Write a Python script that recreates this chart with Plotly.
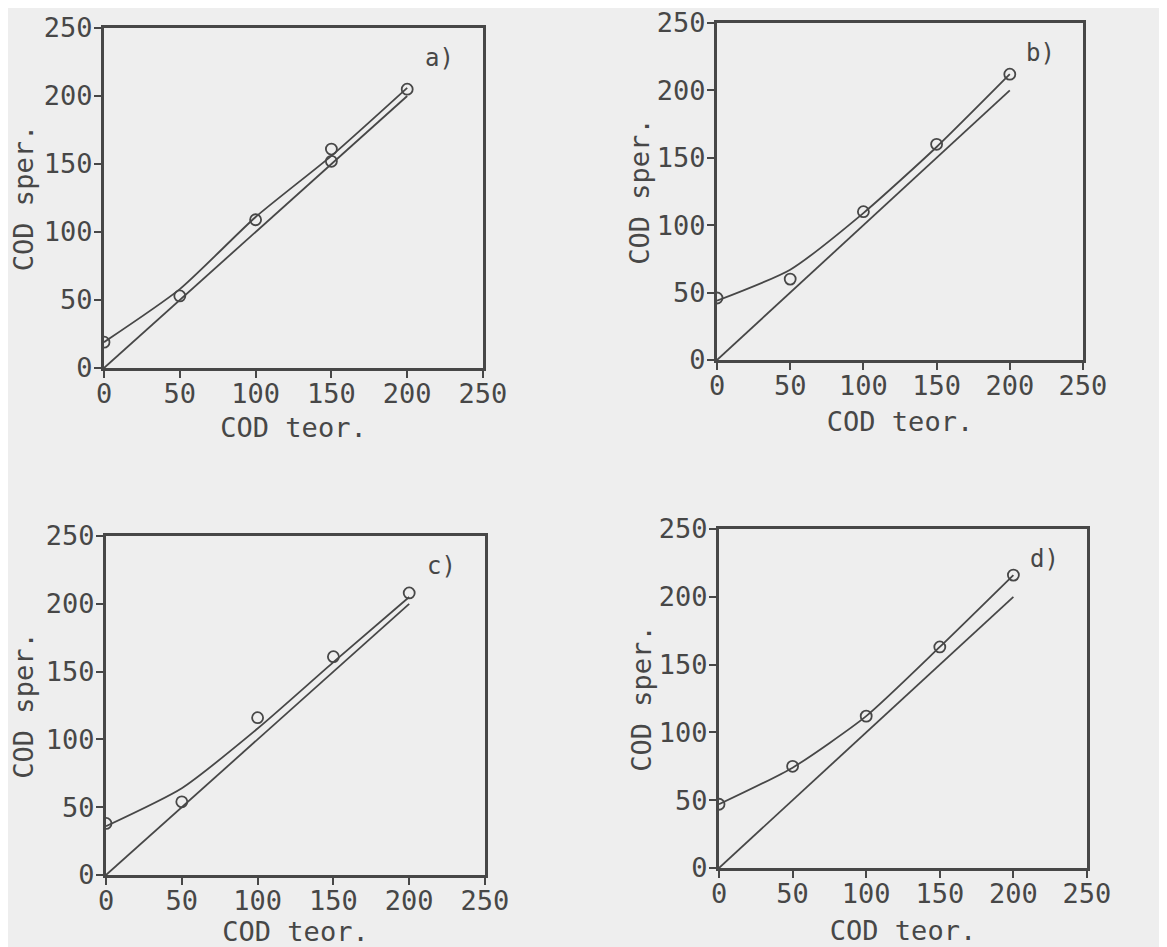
import plotly.graph_objects as go

# ---- data ----
x_pts = [0, 50, 100, 150, 200]
x_line = [0, 200]
y_ident = [0, 200]

a_x = [0, 50, 100, 150, 150, 200]
a_y = [19, 53, 109, 152, 161, 205]
a_fit = [19, 58, 111, 156, 206]

b_y = [46, 60, 110, 160, 212]
b_fit = [44, 67, 109, 158, 212]

c_y = [38, 54, 116, 161, 208]
c_fit = [36, 64, 108, 157, 205]

d_y = [47, 75, 112, 163, 216]
d_fit = [47, 74, 112, 163, 216]

tick_vals = [0, 50, 100, 150, 200, 250]
tick_text = ["0", "50", "100", "150", "200", "250"]
panel_labels = ["a)", "b)", "c)", "d)"]
x_title = "COD teor."
y_title = "COD sper."

W, H = 1167, 947
OFF = 8  # page body margin in the browser
BG = "#eeeeee"
INK = "#474747"
FONT = "DejaVu Sans Mono"
FS = 27

# plot areas in screen pixels: (left, right, top, bottom)
boxes = [
    (104, 483, 28, 368),
    (717, 1083, 23, 360),
    (106, 485, 536, 875),
    (719, 1087, 529, 868),
]
# title standoffs per panel (x title, y title)
standoffs = [(10, 10), (12, 0), (4, 10), (13, 0)]

panels = [
    (a_x, a_y, a_fit),
    (x_pts, b_y, b_fit),
    (x_pts, c_y, c_fit),
    (x_pts, d_y, d_fit),
]

fig = go.Figure()
layout = {}
for i, ((px, py, fit), (l, r, t, b), (sx, sy)) in enumerate(zip(panels, boxes, standoffs)):
    n = "" if i == 0 else str(i + 1)
    xa, ya = "x" + n, "y" + n
    fig.add_trace(go.Scatter(x=x_line, y=y_ident, mode="lines",
                             line=dict(color=INK, width=1.8),
                             xaxis=xa, yaxis=ya, showlegend=False, hoverinfo="skip"))
    fig.add_trace(go.Scatter(x=x_pts, y=fit, mode="lines",
                             line=dict(color=INK, width=1.8, shape="spline", smoothing=0.6),
                             xaxis=xa, yaxis=ya, showlegend=False, hoverinfo="skip"))
    fig.add_trace(go.Scatter(x=px, y=py, mode="markers",
                             marker=dict(symbol="circle-open", size=11, color=INK,
                                         line=dict(width=1.8, color=INK)),
                             xaxis=xa, yaxis=ya, showlegend=False))
    common = dict(range=[0, 250], tickvals=tick_vals, ticktext=tick_text,
                  showline=True, linecolor=INK, linewidth=3, mirror=True,
                  ticks="outside", ticklen=7, tickwidth=2, tickcolor=INK,
                  showgrid=False, zeroline=False, fixedrange=True, automargin=False,
                  ticklabeloverflow="allow",
                  tickfont=dict(family=FONT, size=FS, color=INK))
    layout["xaxis" + n] = dict(common, domain=[(l - OFF) / W, (r - OFF) / W], anchor=ya,
                               ticklabelstandoff=-7,
                               title=dict(text=x_title, standoff=sx,
                                          font=dict(family=FONT, size=FS, color=INK)))
    layout["yaxis" + n] = dict(common, domain=[1 - (b - OFF) / H, 1 - (t - OFF) / H], anchor=xa,
                               ticklabelstandoff=-4,
                               title=dict(text=y_title, standoff=sy,
                                          font=dict(family=FONT, size=FS, color=INK)))
    fig.add_annotation(x=221, y=228, xref=xa, yref=ya, text=panel_labels[i],
                       showarrow=False, font=dict(family=FONT, size=24, color=INK))

fig.update_layout(width=W, height=H, margin=dict(l=0, r=0, t=0, b=0),
                  paper_bgcolor=BG, plot_bgcolor=BG, showlegend=False, **layout)
fig.write_html("out.html")
